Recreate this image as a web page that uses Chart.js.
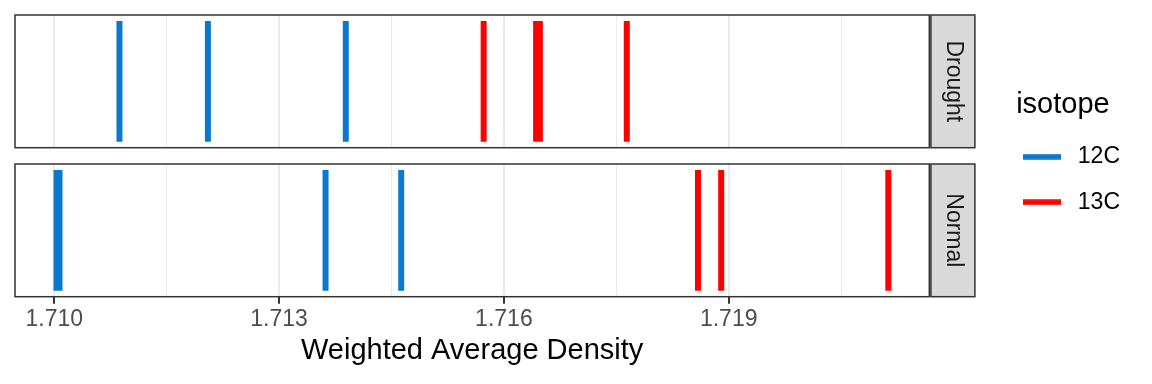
<!DOCTYPE html>
<html>
<head>
<meta charset="utf-8">
<script src="https://cdn.jsdelivr.net/npm/chart.js@4.4.1/dist/chart.umd.min.js"></script>
<style>
  html, body { margin: 0; padding: 0; background: #FFFFFF; }
  #wrap { width: 1152px; height: 384px; position: relative; }
  canvas { display: block; }
</style>
</head>
<body>
<div id="wrap"><canvas id="chart" width="1152" height="384"></canvas></div>
<script>
// ---- data ----
const panels = ['Drought', 'Normal'];
const isotopes = ['12C', '13C'];
const isotopeColors = ['#0A78CD', '#FF0000'];
const droughtC12 = [1.71087, 1.71205, 1.71389];
const droughtC13 = [1.71573, 1.71643, 1.71648, 1.71764];
const normalC12 = [1.71003, 1.71007, 1.71362, 1.71463];
const normalC13 = [1.71859, 1.71890, 1.72113];
const majorTicks = [1.710, 1.713, 1.716, 1.719];
const minorTicks = [1.7115, 1.7145, 1.7175, 1.7205];
const xLimits = [1.709476, 1.721677];
const xTitle = 'Weighted Average Density';
const legendTitle = 'isotope';

const FONT = '"Liberation Sans", Arial, Helvetica, sans-serif';
const SMALL = 23, BIG = 29;
const panelAxes = ['yD', 'yN'];
const allTicks = majorTicks.concat(minorTicks).sort((a, b) => a - b);
const isMajor = v => majorTicks.some(m => Math.abs(m - v) < 1e-7);

function segments(values) {
  const out = [];
  values.forEach(v => { out.push({x: v, y: 0}, {x: v, y: 1}, {x: v, y: null}); });
  return out;
}
function ds(values, iso, axis) {
  return {
    label: isotopes[iso],
    data: segments(values),
    yAxisID: axis,
    borderColor: isotopeColors[iso],
    backgroundColor: isotopeColors[iso],
    borderWidth: 6,
    borderCapStyle: 'butt',
    showLine: true,
    spanGaps: false,
    pointRadius: 0,
    pointHoverRadius: 0
  };
}
function keyImage(color) {
  const c = document.createElement('canvas');
  c.width = 38; c.height = 6;
  const g = c.getContext('2d');
  g.fillStyle = color;
  g.fillRect(0, 0.25, 38, 5.5);
  return c;
}

const facetPlugin = {
  id: 'facets',
  beforeDatasetsDraw(chart) {
    const g = chart.scales.yGap, a = chart.chartArea, ctx = chart.ctx;
    ctx.save();
    ctx.fillStyle = '#FFFFFF';
    ctx.fillRect(a.left - 3, g.top, a.width + 6, g.height);
    ctx.restore();
  },
  afterDatasetsDraw(chart) {
    const a = chart.chartArea, ctx = chart.ctx;
    panels.forEach((name, i) => {
      const s = chart.scales[panelAxes[i]];
      ctx.save();
      ctx.lineWidth = 1.5;
      ctx.strokeStyle = '#333333';
      ctx.strokeRect(a.left, s.top, a.right - a.left, s.bottom - s.top);
      const x0 = a.right + 1.6, w = 44;
      ctx.fillStyle = '#D9D9D9';
      ctx.fillRect(x0, s.top, w, s.bottom - s.top);
      ctx.strokeRect(x0, s.top, w, s.bottom - s.top);
      ctx.translate(x0 + w / 2, (s.top + s.bottom) / 2);
      ctx.rotate(Math.PI / 2);
      ctx.fillStyle = '#1A1A1A';
      ctx.font = SMALL + 'px ' + FONT;
      ctx.textAlign = 'center';
      ctx.textBaseline = 'middle';
      ctx.fillText(name, 0, 0);
      ctx.restore();
    });
  }
};

const hiddenAxis = (weight) => ({
  type: 'linear', position: 'right', stack: 'panels', stackWeight: weight,
  min: -0.05, max: 1.05, display: true,
  ticks: { display: false }, grid: { display: false }, border: { display: false },
  afterFit: s => { s.width = 66.5; }
});

new Chart(document.getElementById('chart'), {
  type: 'scatter',
  data: {
    datasets: [
      ds(droughtC12, 0, 'yD'),
      ds(droughtC13, 1, 'yD'),
      ds(normalC12, 0, 'yN'),
      ds(normalC13, 1, 'yN')
    ]
  },
  options: {
    responsive: false,
    animation: false,
    events: [],
    devicePixelRatio: 1,
    layout: { padding: { left: 15, top: 15, right: 22, bottom: 0 } },
    scales: {
      x: {
        type: 'linear', position: 'bottom', min: xLimits[0], max: xLimits[1],
        afterBuildTicks: s => { s.ticks = allTicks.map(v => ({ value: v })); },
        afterFit: s => { s.height = 87.3; },
        ticks: {
          autoSkip: false, maxRotation: 0, minRotation: 0, padding: 2,
          color: '#4D4D4D', font: { family: FONT, size: SMALL },
          callback: v => isMajor(v) ? v.toFixed(3) : ''
        },
        grid: {
          color: '#EBEBEB',
          lineWidth: c => (c.tick && isMajor(c.tick.value)) ? 2 : 1.1,
          drawTicks: true, tickLength: 7,
          tickColor: c => (c.tick && isMajor(c.tick.value)) ? '#333333' : 'rgba(0,0,0,0)',
          tickWidth: 2
        },
        border: { display: false },
        title: {
          display: true, text: xTitle, color: '#000000',
          font: { family: FONT, size: BIG }, padding: { top: 0, bottom: 15.65 }
        }
      },
      yD: hiddenAxis(132.7),
      yGap: hiddenAxis(16.3),
      yN: hiddenAxis(132.7)
    },
    plugins: {
      tooltip: { enabled: false },
      legend: {
        position: 'right', align: 'start',
        title: {
          display: true, text: legendTitle, position: 'center', color: '#000000',
          font: { family: FONT, size: BIG, lineHeight: 1.1 }, padding: { top: 75.5, bottom: 0.35 }
        },
        labels: {
          usePointStyle: true, pointStyleWidth: 48, padding: 22.5, color: '#000000',
          font: { family: FONT, size: SMALL },
          generateLabels: () => isotopes.map((name, i) => ({
            text: name, fillStyle: isotopeColors[i], strokeStyle: isotopeColors[i],
            pointStyle: keyImage(isotopeColors[i]),
            lineWidth: 0, hidden: false, fontColor: '#000000'
          }))
        }
      }
    }
  },
  plugins: [facetPlugin]
});
</script>
</body>
</html>
